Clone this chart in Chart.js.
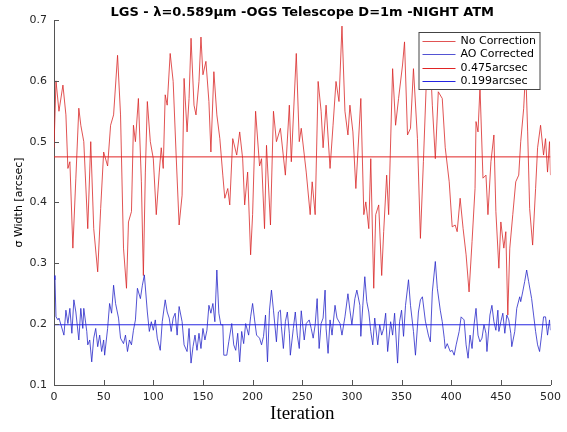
<!DOCTYPE html>
<html>
<head>
<meta charset="utf-8">
<script src="https://cdn.jsdelivr.net/npm/chart.js@4.4.0/dist/chart.umd.min.js"></script>
<style>
body{margin:0;background:#fff;}
canvas{display:block;}
</style>
</head>
<body>
<canvas id="sigmaChart" width="567" height="432"></canvas>
<script>
//그래프 제목, 축
const plotTitle = 'LGS - \u03bb=0.589\u03bcm -OGS Telescope D=1m -NIGHT ATM';
const xTitle = 'Iteration';
const yTitle = '\u03c3 Width [arcsec]';
const xRange = [0, 500];
const yRange = [0.1, 0.7];

//보정 없음
const noCorrIter = [
	0,2,5,9,12,14,16,19,22,25,
	27,30,34,37,40,44,47,50,54,57,
	60,64,67,70,73,75,78,80,82,85,
	88,90,92,94,97,100,103,106,108,110,
	112,114,117,120,123,126,129,131,134,136,
	138,141,143,146,148,150,153,156,158,161,
	164,167,170,172,175,177,180,184,187,190,
	192,195,198,200,203,207,209,212,214,218,
	221,224,228,233,237,239,244,247,249,254,
	258,260,263,266,269,271,274,278,281,284,
	287,290,293,296,298,301,304,309,312,314,
	317,319,322,324,327,330,332,335,337,341,
	344,347,351,353,356,359,362,366,369,372,
	375,378,381,384,387,391,394,398,401,404,
	406,409,412,415,418,421,424,425,427,429,
	432,435,437,440,443,445,448,450,453,455,
	457,459,462,465,468,470,473,475,477,479,
	482,485,487,490,493,495,497,499,500
];
const noCorrVal = [
	0.49,0.60,0.55,0.593,0.544,0.456,0.467,0.325,0.44,0.555,
	0.527,0.50,0.357,0.50,0.357,0.286,0.39,0.483,0.46,0.527,
	0.544,0.642,0.544,0.325,0.259,0.368,0.385,0.527,0.50,0.571,
	0.434,0.28,0.45,0.566,0.50,0.472,0.38,0.45,0.49,0.456,
	0.577,0.56,0.645,0.599,0.478,0.363,0.412,0.604,0.516,0.571,
	0.67,0.56,0.544,0.599,0.672,0.61,0.632,0.566,0.483,0.615,
	0.544,0.505,0.445,0.407,0.423,0.396,0.505,0.478,0.516,0.472,
	0.396,0.45,0.314,0.38,0.55,0.46,0.472,0.357,0.494,0.363,
	0.55,0.50,0.522,0.445,0.56,0.467,0.645,0.50,0.522,0.45,
	0.38,0.434,0.38,0.599,0.55,0.49,0.56,0.456,0.527,0.599,
	0.566,0.69,0.55,0.511,0.56,0.516,0.423,0.571,0.38,0.401,
	0.357,0.472,0.259,0.38,0.396,0.28,0.352,0.445,0.38,0.62,
	0.527,0.571,0.626,0.664,0.511,0.522,0.62,0.505,0.341,0.467,
	0.60,0.67,0.56,0.472,0.582,0.571,0.49,0.434,0.36,0.363,
	0.352,0.407,0.357,0.314,0.253,0.336,0.423,0.533,0.516,0.59,
	0.44,0.445,0.38,0.467,0.511,0.385,0.292,0.368,0.325,0.352,
	0.215,0.325,0.38,0.434,0.445,0.50,0.555,0.62,0.516,0.39,
	0.33,0.423,0.49,0.527,0.478,0.505,0.45,0.50,0.445
];

//AO 보정
const aoIter = [
	0,1,2,4,5,7,10,12,14,16,
	18,20,22,25,27,29,30,33,34,36,
	38,40,42,44,46,48,50,51,54,56,
	58,60,62,65,67,70,72,74,76,78,
	80,82,84,87,89,91,94,96,98,100,
	102,104,107,109,112,114,116,118,120,122,
	124,126,129,131,134,136,138,140,142,144,
	146,148,150,152,154,156,158,160,162,163,
	164,166,168,170,171,174,176,179,181,183,
	185,187,189,191,193,196,198,200,202,204,
	207,209,211,213,215,217,219,221,224,226,
	228,229,231,233,235,237,238,241,243,245,
	247,249,252,254,257,259,261,263,265,267,
	269,271,273,274,276,278,280,283,285,288,
	290,293,296,298,300,303,305,308,309,311,
	313,315,317,319,321,323,326,328,330,332,
	334,336,339,341,343,346,348,350,352,354,
	357,359,362,364,367,369,371,374,377,379,
	381,384,386,389,391,393,394,396,399,401,
	403,405,408,410,413,415,417,419,421,423,
	425,427,429,431,433,435,436,439,441,443,
	445,447,448,450,452,454,456,458,460,461,
	464,466,469,470,472,474,476,478,481,483,
	485,487,489,491,493,495,497,499,500
];
const aoVal = [
	0.28,0.273,0.212,0.207,0.21,0.199,0.182,0.223,0.201,0.226,
	0.185,0.24,0.22,0.174,0.226,0.193,0.226,0.188,0.166,0.174,
	0.138,0.177,0.193,0.163,0.182,0.155,0.174,0.149,0.193,0.234,
	0.218,0.264,0.234,0.21,0.177,0.168,0.182,0.155,0.174,0.166,
	0.19,0.207,0.259,0.242,0.264,0.281,0.22,0.188,0.204,0.19,
	0.207,0.177,0.157,0.204,0.24,0.22,0.21,0.188,0.21,0.218,
	0.182,0.229,0.204,0.166,0.155,0.193,0.136,0.163,0.182,0.157,
	0.185,0.16,0.193,0.174,0.19,0.231,0.218,0.234,0.204,0.248,
	0.289,0.218,0.199,0.199,0.149,0.149,0.171,0.201,0.166,0.157,
	0.185,0.138,0.188,0.168,0.201,0.182,0.212,0.234,0.207,0.182,
	0.177,0.166,0.18,0.215,0.138,0.223,0.256,0.223,0.171,0.22,
	0.223,0.196,0.16,0.204,0.22,0.185,0.149,0.193,0.22,0.182,
	0.16,0.222,0.174,0.201,0.207,0.193,0.177,0.199,0.242,0.16,
	0.201,0.21,0.256,0.193,0.152,0.207,0.182,0.231,0.21,0.201,
	0.182,0.212,0.25,0.223,0.199,0.242,0.256,0.231,0.18,0.231,
	0.278,0.237,0.22,0.188,0.166,0.21,0.166,0.199,0.182,0.193,
	0.218,0.155,0.204,0.182,0.218,0.136,0.204,0.223,0.18,0.231,
	0.273,0.231,0.188,0.149,0.22,0.24,0.245,0.205,0.182,0.171,
	0.253,0.303,0.259,0.223,0.204,0.177,0.16,0.168,0.155,0.157,
	0.149,0.166,0.188,0.212,0.207,0.166,0.144,0.182,0.16,0.199,
	0.226,0.182,0.171,0.177,0.199,0.185,0.155,0.215,0.231,0.204,
	0.19,0.223,0.188,0.204,0.218,0.185,0.215,0.207,0.185,0.163,
	0.188,0.226,0.245,0.237,0.253,0.27,0.289,0.27,0.242,0.215,
	0.188,0.166,0.155,0.182,0.212,0.212,0.182,0.207,0.19
];

//기준선 (평균값)
const refLabels = ['0.475arcsec', '0.199arcsec'];
const refValues = [0.475, 0.199];

document.addEventListener("DOMContentLoaded", function(){
	const sigmatx = document.getElementById('sigmaChart').getContext('2d');
	const toPoints = (xs, ys) => xs.map((x, i) => ({x: x, y: ys[i]}));
	const flatLine = (v) => [{x: xRange[0], y: v}, {x: xRange[1], y: v}];

	const sigmaData = {
		datasets: [
			{
				label: 'No Correction',
				data: toPoints(noCorrIter, noCorrVal),
				borderColor: 'rgba(218,40,40,0.8)',
				borderWidth: 1,
				pointRadius: 0,
				order: 4
			},
			{
				label: 'AO Corrected',
				data: toPoints(aoIter, aoVal),
				borderColor: 'rgba(40,40,200,0.8)',
				borderWidth: 1,
				pointRadius: 0,
				order: 3
			},
			{
				label: refLabels[0],
				data: flatLine(refValues[0]),
				borderColor: '#e02424',
				borderWidth: 1,
				pointRadius: 0,
				order: 2
			},
			{
				label: refLabels[1],
				data: flatLine(refValues[1]),
				borderColor: '#2424e0',
				borderWidth: 1,
				pointRadius: 0,
				order: 1
			}
		]
	};

	//제목, 안쪽 눈금, 범례 박스
	const matlabLook = {
		id: 'matlabLook',
		afterDraw(chart) {
			const c = chart.ctx;
			const area = chart.chartArea;
			c.save();
			c.fillStyle = '#000';
			c.font = 'bold 13px "DejaVu Sans"';
			c.textAlign = 'center';
			c.textBaseline = 'middle';
			c.fillText(plotTitle, (area.left + area.right) / 2, 13);

			c.strokeStyle = '#555';
			c.lineWidth = 1;
			chart.scales.x.ticks.forEach(t => {
				const px = Math.round(chart.scales.x.getPixelForValue(t.value)) + 0.5;
				c.beginPath();
				c.moveTo(px, area.bottom);
				c.lineTo(px, area.bottom - 5);
				c.stroke();
			});
			chart.scales.y.ticks.forEach(t => {
				const py = Math.round(chart.scales.y.getPixelForValue(t.value)) + 0.5;
				c.beginPath();
				c.moveTo(area.left, py);
				c.lineTo(area.left + 5, py);
				c.stroke();
			});

			const bx = area.right - 132, by = area.top + 12, bw = 121, bh = 57;
			c.fillStyle = '#fff';
			c.fillRect(bx, by, bw, bh);
			c.strokeStyle = '#444';
			c.strokeRect(bx + 0.5, by + 0.5, bw, bh);
			c.font = '11px "DejaVu Sans"';
			c.textAlign = 'left';
			chart.data.datasets.forEach((ds, i) => {
				const ry = Math.round(by + 9 + i * 13.3) + 0.5;
				c.strokeStyle = ds.borderColor;
				c.beginPath();
				c.moveTo(bx + 4, ry);
				c.lineTo(bx + 37, ry);
				c.stroke();
				c.fillStyle = '#000';
				c.fillText(ds.label, bx + 42, ry);
			});
			c.restore();
		}
	};

	const sigmaChart = new Chart(sigmatx, {
		type: 'line',
		data: sigmaData,
		options: {
			responsive: false,
			animation: false,
			layout: {
				padding: {top: 20, right: 12, left: 0, bottom: 0}
			},
			plugins: {
				legend: {display: false},
				tooltip: {enabled: false}
			},
			scales: {
				x: {
					type: 'linear',
					min: xRange[0],
					max: xRange[1],
					grid: {display: false, drawTicks: false},
					border: {display: true, color: '#555', width: 1},
					ticks: {
						stepSize: 50,
						maxRotation: 0,
						autoSkip: false,
						padding: 6,
						color: '#262626',
						font: {family: 'DejaVu Sans', size: 11}
					},
					title: {
						display: true,
						text: xTitle,
						color: '#000',
						font: {family: 'Liberation Serif', size: 19},
						padding: {top: 0, bottom: 7}
					},
					afterFit: function(scale) { scale.height = 47; }
				},
				y: {
					min: yRange[0],
					max: yRange[1],
					grid: {display: false, drawTicks: false},
					border: {display: true, color: '#555', width: 1},
					ticks: {
						stepSize: 0.1,
						padding: 7,
						color: '#262626',
						font: {family: 'DejaVu Sans', size: 11},
						callback: (v) => v.toFixed(1)
					},
					title: {
						display: true,
						text: yTitle,
						color: '#000',
						font: {family: 'DejaVu Sans', size: 11},
						padding: {top: 13, bottom: 0}
					},
					afterFit: function(scale) { scale.width = 54; }
				}
			}
		},
		plugins: [matlabLook]
	});
});
</script>
</body>
</html>
